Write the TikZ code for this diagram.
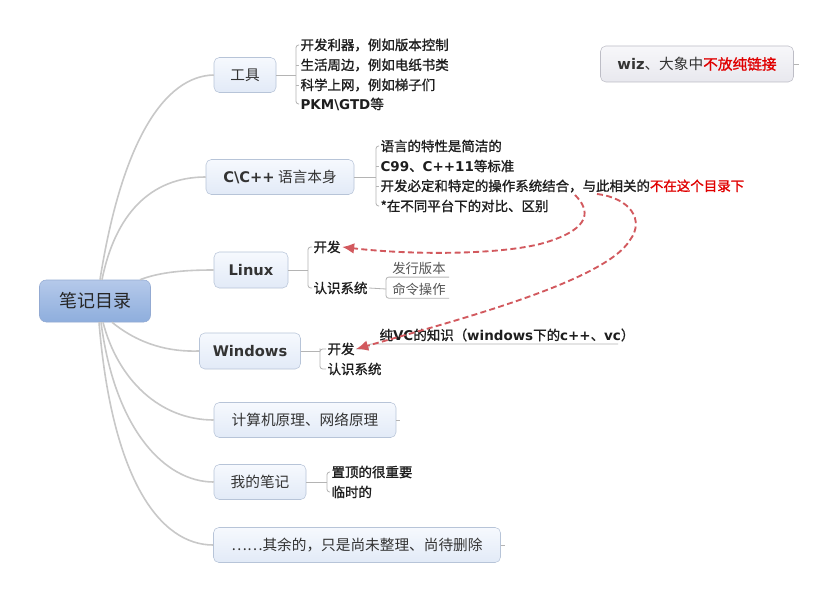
\documentclass[tikz,border=0pt]{standalone}
\usepackage{fontspec}
\setmainfont{Noto Sans CJK SC}[AutoFakeBold=1.2]
\newfontfamily\latf{DejaVu Sans}
\usetikzlibrary{arrows.meta,calc}
\definecolor{conn}{HTML}{C8C8C8}
\definecolor{brc}{HTML}{B4B4B4}
\definecolor{topicb}{HTML}{B7C4D8}
\definecolor{topict}{HTML}{F6F9FE}
\definecolor{topicbot}{HTML}{E2EAF7}
\definecolor{roott}{HTML}{B5C9EA}
\definecolor{rootbot}{HTML}{8EAEDD}
\definecolor{rootb}{HTML}{93AAD2}
\definecolor{wizt}{HTML}{F7F7FA}
\definecolor{wizbot}{HTML}{E8E8EE}
\definecolor{wizb}{HTML}{BDBDC6}
\definecolor{txt}{HTML}{333333}
\definecolor{subtxt}{HTML}{1E1E1E}
\definecolor{graytxt}{HTML}{555555}
\definecolor{redtxt}{HTML}{E00000}
\definecolor{arr}{HTML}{D2595E}
\newcommand\LB[1]{{\latf\bfseries #1}}
\begin{document}
\begin{tikzpicture}[x=0.75pt,y=-0.75pt,
  rootbox/.style={draw=rootb, rounded corners=5pt, top color=roott, bottom color=rootbot,
    font=\fontsize{13.5}{15}\selectfont, text=black!85, inner sep=0pt},
  topic/.style={draw=topicb, rounded corners=4pt, top color=topict, bottom color=topicbot,
    font=\fontsize{11}{13}\selectfont, text=txt, inner sep=0pt, minimum height=26.25pt},
  wizbox/.style={draw=wizb, rounded corners=4pt, top color=wizt, bottom color=wizbot,
    font=\fontsize{11}{13}\selectfont, text=txt, inner sep=0pt, minimum height=27pt},
  sub/.style={anchor=west, inner sep=1pt, font=\fontsize{10.1}{12}\selectfont\bfseries, text=subtxt},
  leaf/.style={anchor=west, inner xsep=4.5pt, inner ysep=2pt, font=\fontsize{10}{12}\selectfont, text=graytxt},
  mainconn/.style={draw=conn, line width=1.2pt},
  br/.style={draw=brc, line width=0.6pt, rounded corners=2pt},
  redarrow/.style={draw=arr, line width=1.4pt, dash pattern=on 4.5pt off 2.5pt,
    -{Latex[length=9pt,width=8pt]}}
]
\fill[white] (0,0) rectangle (834,602);
\useasboundingbox (0,0) rectangle (834,602);

% ---------- root and main topics ----------
\node[rootbox, minimum width=83.25pt, minimum height=31.5pt] (root) at (95,301) {笔记目录};
\node[topic, minimum width=46.5pt] (tools) at (245,75) {工具};
\node[topic, minimum width=111pt] (cpp) at (280,177) {\LB{C\textbackslash C++} 语言本身};
\node[topic, minimum width=55.5pt, minimum height=27pt] (linux) at (251,270) {\LB{Linux}};
\node[topic, minimum width=75.75pt, minimum height=27pt] (win) at (250,351) {\LB{Windows}};
\node[topic, minimum width=136.5pt] (comp) at (305,420) {计算机原理、网络原理};
\node[topic, minimum width=69pt] (notes) at (260,482) {我的笔记};
\node[topic, minimum width=215.25pt] (rest) at (357,545) {……其余的，只是尚未整理、尚待删除};
\node[wizbox, minimum width=144.75pt] (wiz) at (697,64) {\LB{wiz}、大象中{\color{redtxt}\bfseries 不放纯链接}};

% ---------- root connectors ----------
\draw[mainconn] ([xshift=3.75pt]root.north) .. controls (122,140) and (165,76) .. (tools.west);
\draw[mainconn] ([xshift=5.25pt]root.north) .. controls (115,215) and (150,177) .. (cpp.west);
\draw[mainconn] ([xshift=33.75pt]root.north) .. controls (160,272) and (185,270) .. (linux.west);
\draw[mainconn] ([xshift=12.75pt]root.south) .. controls (140,345) and (170,352) .. (win.west);
\draw[mainconn] ([xshift=6pt]root.south) .. controls (118,380) and (160,420) .. (comp.west);
\draw[mainconn] ([xshift=4.5pt]root.south) .. controls (115,430) and (165,482) .. (notes.west);
\draw[mainconn] ([xshift=3pt]root.south) .. controls (112,480) and (160,545) .. (rest.west);

% small stubs
\draw[br] (comp.east) -- ++(4,0);
\draw[br] (rest.east) -- ++(4,0);
\draw[br] (wiz.east) -- ++(5,0);

% ---------- tools ----------
\node[sub] (t1) at (299,45) {开发利器，例如版本控制};
\node[sub] (t2) at (299,65) {生活周边，例如电纸书类};
\node[sub] (t3) at (299,85) {科学上网，例如梯子们};
\node[sub] (t4) at (299,104) {\LB{PKM\textbackslash GTD}等};
\coordinate (tb) at (296,75);
\draw[br] (tools.east) -- (tb);
\draw[br] (t1.west) -| (tb) |- (t4.west);
\draw[br] (t2.west -| tb) -- (t2.west);
\draw[br] (t3.west -| tb) -- (t3.west);

% ---------- C/C++ ----------
\node[sub] (c1) at (379,146) {语言的特性是简洁的};
\node[sub] (c2) at (379,166) {\LB{C99}、\LB{C++11}等标准};
\node[sub] (c3) at (379,186) {开发必定和特定的操作系统结合，与此相关的{\color{redtxt}不在这个目录下}};
\node[sub] (c4) at (379,206) {*在不同平台下的对比、区别};
\coordinate (cb) at (376,177);
\draw[br] (cpp.east) -- (cb);
\draw[br] (c1.west) -| (cb) |- (c4.west);
\draw[br] (c2.west -| cb) -- (c2.west);
\draw[br] (c3.west -| cb) -- (c3.west);

% ---------- Linux ----------
\node[sub] (ld) at (312,247) {开发};
\node[sub] (ls) at (312,288) {认识系统};
\coordinate (lb) at (308,270);
\draw[br] (linux.east) -- (lb);
\draw[br] (ld.west) -| (lb) |- (ls.west);
\node[leaf] (l1) at (386,268) {发行版本};
\node[leaf] (l2) at (386,289) {命令操作};
\coordinate (llb) at (386,289);
\draw[br] (ls.east) -- (llb);
\draw[br] ([xshift=47.25pt]l1.south west) -- (l1.south west) -- (l2.south west) -- ([xshift=47.25pt]l2.south west);

% ---------- Windows ----------
\node[sub] (wd) at (326,349) {开发};
\node[sub] (ws) at (326,369) {认识系统};
\coordinate (wb) at (320,351);
\draw[br] (win.east) -- (wb);
\draw[br] (wd.west) -| (wb) |- (ws.west);
\node[sub] (wv) at (378,335) {纯\LB{VC}的知识（\LB{windows}下的\LB{c++}、\LB{vc}）};
\coordinate (wvend) at (618,344);
\draw[br, rounded corners=1.5pt] (wd.east) -| (369,344) -- (wvend);

% ---------- notes ----------
\node[sub] (n1) at (330,472) {置顶的很重要};
\node[sub] (n2) at (330,492) {临时的};
\coordinate (nb) at (327,482);
\draw[br] (notes.east) -- (nb);
\draw[br] (n1.west) -| (nb) |- (n2.west);

% ---------- red dashed relations ----------
\coordinate (s1) at (575,195);
\coordinate (s2) at (597,194);
\draw[redarrow] (s1) .. controls (590,210) and (592,228) .. (547,242)
  .. controls (510,254) and (420,256) .. (ld.east);
\draw[redarrow] (s2) .. controls (630,198) and (645,220) .. (630,240)
  .. controls (605,282) and (450,322) .. (wd.east);
\end{tikzpicture}
\end{document}
